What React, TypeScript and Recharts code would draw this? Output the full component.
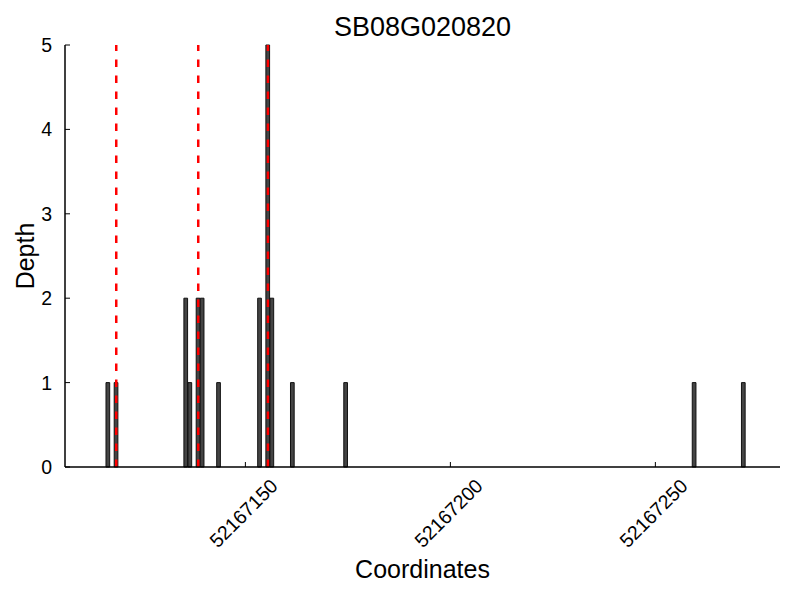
import React from 'react'
import {
  ComposedChart,
  Bar,
  XAxis,
  YAxis,
  ReferenceLine,
  Label,
} from 'recharts'

// bin start coordinates (1 bp bins) and read depth
const positions = [
  52167116, 52167118, 52167135, 52167136, 52167138, 52167139, 52167143,
  52167153, 52167155, 52167156, 52167161, 52167174, 52167259, 52167271,
]
const depths = [1, 1, 2, 1, 2, 2, 1, 2, 5, 2, 1, 1, 1, 1]

// dashed red markers (bin starts)
const markers = [52167118, 52167138, 52167155]

const xTicks = [52167150, 52167200, 52167250]
const yTicks = [0, 1, 2, 3, 4, 5]
const title = 'SB08G020820'

const FONT = '"Liberation Sans", Arial, Helvetica, sans-serif'

const data = positions.map((p, i) => ({ pos: p + 0.5, depth: depths[i] }))

function XTick(props: any) {
  const { x, y, payload } = props
  return (
    <g>
      <line x1={x} x2={x} y1={y} y2={y - 5} stroke="#000" strokeWidth={1} />
      <text
        x={x - 2}
        y={y + 46}
        textAnchor="middle"
        dominantBaseline="central"
        fontSize={19.5}
        fontFamily={FONT}
        fill="#000"
        transform={`rotate(-45, ${x - 2}, ${y + 46})`}
      >
        {payload.value}
      </text>
    </g>
  )
}

function YTick(props: any) {
  const { x, y, payload } = props
  return (
    <g>
      <line x1={x} x2={x + 5} y1={y} y2={y} stroke="#000" strokeWidth={1} />
      <text
        x={x - 13}
        y={y}
        textAnchor="end"
        dominantBaseline="central"
        fontSize={19.5}
        fontFamily={FONT}
        fill="#000"
      >
        {payload.value}
      </text>
    </g>
  )
}

export default function App() {
  return (
    <div style={{ position: 'absolute', left: 0, top: 0, width: 800, height: 600, background: '#fff' }}>
      <div
        style={{
          position: 'absolute',
          left: 65,
          width: 715,
          top: 14,
          lineHeight: '27px',
          fontSize: 27,
          fontFamily: FONT,
          textAlign: 'center',
          color: '#000',
        }}
      >
        {title}
      </div>
      <ComposedChart
        width={800}
        height={600}
        data={data}
        margin={{ top: 45, right: 20, bottom: 0, left: 0 }}
      >
        <XAxis
          dataKey="pos"
          type="number"
          domain={[52167106, 52167280.4]}
          allowDataOverflow
          ticks={xTicks}
          tick={<XTick />}
          tickLine={false}
          tickSize={0}
          tickMargin={0}
          height={133}
          axisLine={{ stroke: '#000', strokeWidth: 1.5 }}
        >
          <Label
            content={(p: any) => {
              const vb = p.viewBox
              return (
                <text
                  x={vb.x + vb.width / 2}
                  y={578}
                  textAnchor="middle"
                  fontSize={25}
                  fontFamily={FONT}
                  fill="#000"
                >
                  Coordinates
                </text>
              )
            }}
          />
        </XAxis>
        <YAxis
          type="number"
          domain={[0, 5]}
          ticks={yTicks}
          tick={<YTick />}
          tickLine={false}
          tickSize={0}
          tickMargin={0}
          width={65}
          axisLine={{ stroke: '#000', strokeWidth: 1.5 }}
        >
          <Label
            content={(p: any) => {
              const vb = p.viewBox
              const cy = vb.y + vb.height / 2
              return (
                <text
                  x={34}
                  y={cy}
                  textAnchor="middle"
                  fontSize={25}
                  fontFamily={FONT}
                  fill="#000"
                  transform={`rotate(-90, 34, ${cy})`}
                >
                  Depth
                </text>
              )
            }}
          />
        </YAxis>
        <Bar
          dataKey="depth"
          barSize={4.5}
          fill="#444444"
          stroke="#111"
          strokeWidth={1}
          isAnimationActive={false}
        />
        {markers.map((m) => (
          <ReferenceLine
            key={m}
            x={m + 0.5}
            stroke="#ff0000"
            strokeWidth={2.5}
            strokeDasharray="7.4 8.6"
          />
        ))}
      </ComposedChart>
    </div>
  )
}
